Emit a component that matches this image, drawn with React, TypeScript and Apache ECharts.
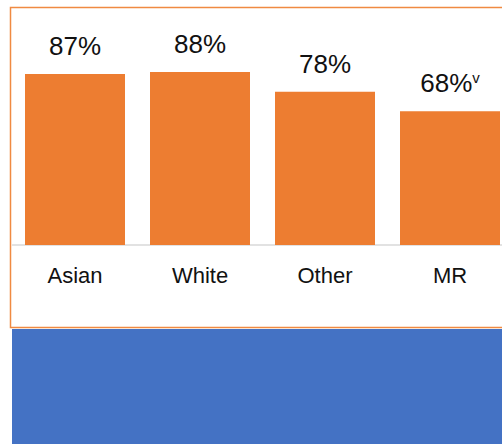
import React, { useEffect, useRef } from "react";
import * as echarts from "echarts";

const categories = ["Asian", "White", "Other", "MR"];
const values = [87, 88, 78, 68];
const footnotes = ["", "", "", "v"];

export default function App() {
  const ref = useRef<HTMLDivElement>(null);
  useEffect(() => {
    if (!ref.current) return;
    const chart = echarts.init(ref.current, undefined, { renderer: "svg" });
    const font = "'Liberation Sans', Arial, sans-serif";
    chart.setOption({
      animation: false,
      backgroundColor: "#ffffff",
      grid: { left: 12.5, top: 48.4, width: 500, height: 196.6, containLabel: false },
      xAxis: {
        type: "category",
        data: categories,
        axisLine: { show: true, lineStyle: { color: "#d9d9d9", width: 1.5 } },
        axisTick: { show: false },
        axisLabel: { fontSize: 22, color: "#111", fontFamily: font, margin: 19 },
      },
      yAxis: { type: "value", min: 0, max: 100, show: false, splitLine: { show: false } },
      graphic: [
        {
          type: "rect",
          shape: { x: 10.5, y: 7.5, width: 520, height: 320 },
          style: { fill: "none", stroke: "#F08A42", lineWidth: 1.5 },
          z: 100,
        },
        {
          type: "rect",
          shape: { x: 12, y: 329, width: 520, height: 120 },
          style: { fill: "#4472C4" },
          z: 100,
        },
      ],
      series: [
        {
          type: "bar",
          data: values,
          barWidth: 100,
          itemStyle: { color: "#ED7D31" },
          label: {
            show: true,
            position: "top",
            distance: 15,
            fontSize: 26,
            color: "#111",
            fontFamily: font,
            formatter: (p: any) => {
              const f = footnotes[p.dataIndex];
              return f ? `{m|${p.value}%}{s|${f}}` : `{m|${p.value}%}`;
            },
            rich: {
              m: { fontSize: 26, color: "#111", fontFamily: font },
              s: { fontSize: 15, color: "#111", fontFamily: font, verticalAlign: "top" },
            },
          },
        },
      ],
    });
    return () => chart.dispose();
  }, []);
  return (
    <div style={{ position: "fixed", left: 0, top: 0, width: 502, height: 444, overflow: "hidden" }}>
      <div ref={ref} style={{ width: 530, height: 444 }} />
    </div>
  );
}
